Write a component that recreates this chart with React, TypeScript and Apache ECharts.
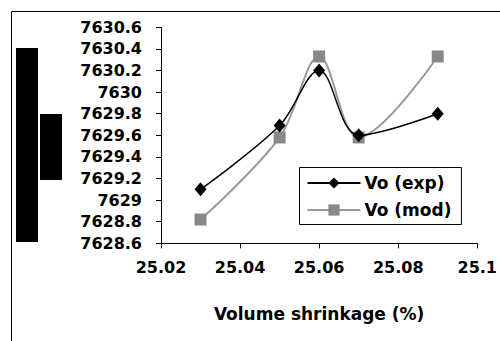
import React, { useEffect, useRef } from "react";
import * as echarts from "echarts";

const xValues = [25.03, 25.05, 25.06, 25.07, 25.09];
const voExp = [7629.1, 7629.69, 7630.2, 7629.6, 7629.8];
const voMod = [7628.82, 7629.58, 7630.33, 7629.58, 7630.33];
const seriesNames = ["Vo (exp)", "Vo (mod)"];
const xTitle = "Volume shrinkage (%)";

const FONT = "'DejaVu Sans', sans-serif";

export default function App() {
  const ref = useRef<HTMLDivElement>(null);
  useEffect(() => {
    if (!ref.current) return;
    const chart = echarts.init(ref.current, null, { renderer: "svg" });
    chart.setOption({
      animation: false,
      backgroundColor: "#fff",
      grid: { left: 161, right: 18.3, top: 27.3, bottom: 97.7, containLabel: false },
      xAxis: {
        type: "value",
        min: 25.02,
        max: 25.1,
        interval: 0.02,
        name: xTitle,
        nameLocation: "middle",
        nameGap: 62,
        nameTextStyle: { fontFamily: FONT, fontWeight: "bold", fontSize: 17, color: "#000" },
        axisLine: { show: true, lineStyle: { color: "#000", width: 1 } },
        axisTick: { show: true, length: 5, lineStyle: { color: "#000" } },
        axisLabel: {
          margin: 16,
          fontFamily: FONT,
          fontWeight: "bold",
          fontSize: 16,
          color: "#000",
          formatter: (v: number) => String(+v.toFixed(2)),
        },
        splitLine: { show: false },
      },
      yAxis: {
        type: "value",
        min: 7628.6,
        max: 7630.6,
        interval: 0.2,
        axisLine: { show: true, lineStyle: { color: "#000", width: 1 } },
        axisTick: { show: true, length: 5, lineStyle: { color: "#000" } },
        axisLabel: {
          margin: 19,
          fontFamily: FONT,
          fontWeight: "bold",
          fontSize: 16,
          color: "#000",
          formatter: (v: number) => String(+v.toFixed(1)),
        },
        splitLine: { show: false },
      },
      legend: {
        orient: "vertical",
        left: 299.5,
        top: 167.5,
        padding: [7, 10, 6, 7],
        borderColor: "#000",
        borderWidth: 1,
        itemWidth: 53,
        itemHeight: 14,
        itemGap: 10,
        textStyle: { fontFamily: FONT, fontWeight: "bold", fontSize: 17, color: "#000", padding: [0, 0, 0, -1] },
        data: seriesNames,
      },
      series: [
        {
          name: seriesNames[0],
          type: "line",
          data: xValues.map((x, i) => [x, voExp[i]]),
          smooth: 0.35,
          symbol: "diamond",
          symbolSize: [12, 14],
          lineStyle: { color: "#000", width: 1.5 },
          itemStyle: { color: "#000" },
          z: 3,
        },
        {
          name: seriesNames[1],
          type: "line",
          data: xValues.map((x, i) => [x, voMod[i]]),
          smooth: 0.35,
          symbol: "rect",
          symbolSize: 12,
          lineStyle: { color: "#999", width: 2 },
          itemStyle: { color: "#888" },
          z: 2,
        },
      ],
      graphic: [
        {
          type: "rect",
          shape: { x: 11.5, y: 11.5, width: 600, height: 400 },
          style: { fill: "none", stroke: "#000", lineWidth: 1 },
          silent: true,
        },
        {
          type: "rect",
          shape: { x: 16, y: 48, width: 22, height: 194 },
          style: { fill: "#000" },
          silent: true,
        },
        {
          type: "rect",
          shape: { x: 40, y: 114, width: 22, height: 66 },
          style: { fill: "#000" },
          silent: true,
        },
      ],
    });
    return () => chart.dispose();
  }, []);
  return (
    <div
      ref={ref}
      style={{ position: "fixed", left: 0, top: 0, width: 500, height: 341, background: "#fff" }}
    />
  );
}
